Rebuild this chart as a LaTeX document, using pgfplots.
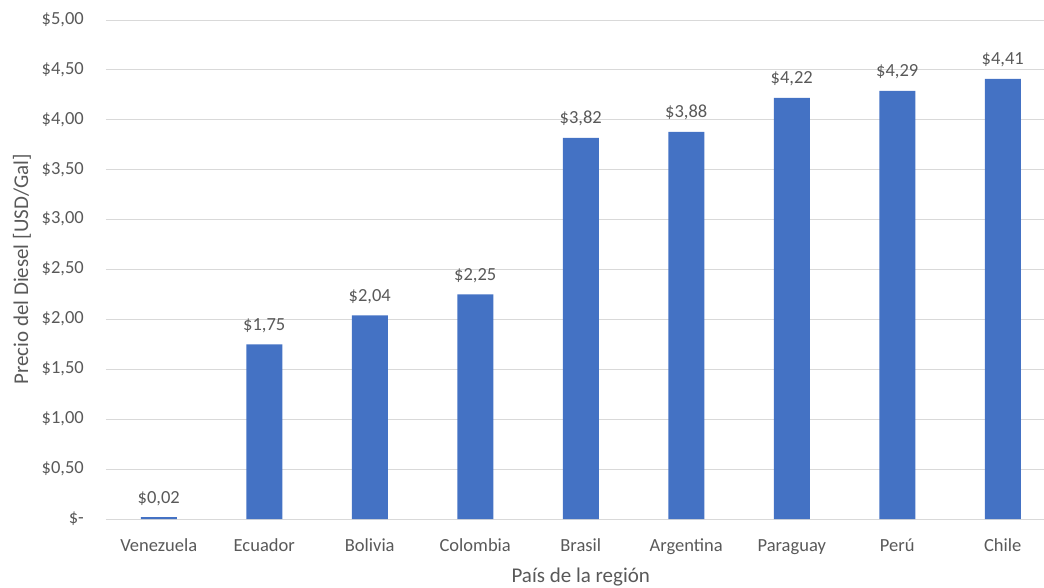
\documentclass[border=0pt]{standalone}
\usepackage{pgfplots}
\pgfplotsset{compat=1.18}
\usepackage{fontspec}
\setmainfont{Carlito}
\definecolor{barblue}{HTML}{4472C4}
\definecolor{txtgray}{HTML}{595959}
\definecolor{gridgray}{HTML}{D9D9D9}
\begin{document}
\begin{tikzpicture}
\useasboundingbox (0,0) rectangle (1044pt,587pt);
\begin{axis}[
  at={(106pt,68pt)}, anchor=south west,
  scale only axis, width=949.5pt, height=499pt,
  xmin=-0.5, xmax=8.5, ymin=0, ymax=5,
  ybar, bar width=36pt,
  axis line style={draw=none},
  major tick length=0pt,
  ymajorgrids, grid style={gridgray, line width=1pt},
  ytick={0,0.5,1,1.5,2,2.5,3,3.5,4,4.5,5},
  yticklabels={{\$-\hspace{7pt}},{\$0,50},{\$1,00},{\$1,50},{\$2,00},{\$2,50},{\$3,00},{\$3,50},{\$4,00},{\$4,50},{\$5,00}},
  yticklabel style={anchor=mid east, inner sep=0pt, xshift=-22pt, yshift=-2pt},
  xtick={0,...,8},
  xticklabels={Venezuela,Ecuador,Bolivia,Colombia,Brasil,Argentina,Paraguay,Perú,Chile},
  xticklabel style={anchor=base, inner sep=0pt, yshift=-32pt},
  ticklabel style={font=\fontsize{18.5}{22}\selectfont, text=txtgray},
  /pgf/number format/assume math mode=true,
  nodes near coords={\$\pgfmathprintnumber[fixed, fixed zerofill, precision=2, use comma]{\pgfplotspointmeta}},
  every node near coord/.append style={font=\fontsize{18.5}{22}\selectfont, text=txtgray, anchor=base, inner sep=0pt, yshift=14pt},
  xlabel={País de la región},
  xlabel style={font=\fontsize{21}{25}\selectfont, text=txtgray, at={(axis description cs:0.5,0)}, anchor=base, inner sep=0pt, yshift=-63pt},
  ylabel={Precio del Diesel [USD/Gal]},
  ylabel style={font=\fontsize{21}{25}\selectfont, text=txtgray, at={(axis description cs:-0.0885,0.5)}, anchor=center, inner sep=0pt},
  clip=false,
]
\addplot[fill=barblue, draw=none] coordinates {
  (0,0.02) (1,1.75) (2,2.04) (3,2.25) (4,3.82) (5,3.88) (6,4.22) (7,4.29) (8,4.41)
};
\end{axis}
\end{tikzpicture}
\end{document}
